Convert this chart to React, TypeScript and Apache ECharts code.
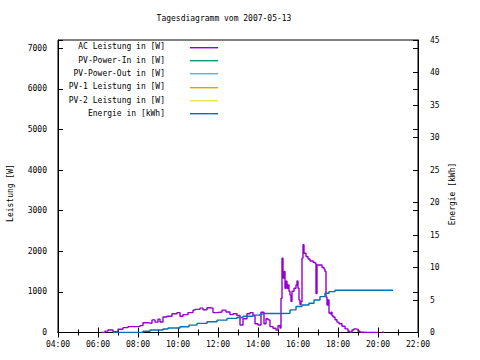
import React, { useEffect, useRef } from "react";
import * as echarts from "echarts";

const title = "Tagesdiagramm vom 2007-05-13";
const legendNames = [
  "AC Leistung in [W]",
  "PV-Power-In in [W]",
  "PV-Power-Out in [W]",
  "PV-1 Leistung in [W]",
  "PV-2 Leistung in [W]",
  "Energie in [kWh]",
];
const colors = ["#9400d3", "#009e73", "#56b4e9", "#e69f00", "#f0e442", "#0072b2"];

const xTicks = ["04:00", "06:00", "08:00", "10:00", "12:00", "14:00", "16:00", "18:00", "20:00", "22:00"];

const acTimes = ["06:12","06:21","06:30","06:45","07:00","07:15","07:30","07:51","08:06","08:15","08:30","08:42","08:51","09:00","09:06","09:15","09:27","09:42","09:57","10:06","10:15","10:30","10:45","10:51","11:06","11:15","11:27","11:36","11:45","11:57","12:12","12:24","12:36","12:45","12:57","13:06","13:15","13:27","13:36","13:45","13:51","14:00","14:09","14:18","14:24","14:30","14:36","14:45","14:54","15:00","15:06","15:09","15:12","15:15","15:18","15:21","15:24","15:27","15:30","15:33","15:36","15:39","15:42","15:48","15:54","15:57","16:00","16:03","16:06","16:09","16:12","16:15","16:18","16:24","16:30","16:36","16:45","16:51","16:54","16:57","17:06","17:12","17:18","17:21","17:24","17:27","17:30","17:33","17:36","17:39","17:42","17:45","17:51","17:57","18:03","18:12","18:21","18:30","18:36","18:42","18:48","18:54","19:00","19:06","19:15","19:30","20:00","20:12","20:18"];
const acValues: (number | null)[] = [0,35,60,20,80,120,145,150,170,240,225,310,255,330,260,380,400,460,490,400,440,490,550,570,600,560,610,600,490,505,550,505,440,460,420,185,340,460,490,420,215,185,500,215,340,310,145,105,60,170,110,840,1830,1340,1500,1090,1260,1090,1170,1015,920,765,1015,1090,1170,1270,1090,800,690,760,1830,2160,1950,1870,1810,1760,1730,1705,960,1660,1660,1600,1560,1500,870,675,800,480,460,500,420,380,315,255,215,155,90,30,10,60,90,75,30,10,0,0,null,5,5];

const pvInValues: number[] = [];
const pvOutValues: number[] = [];
const pv1Values: number[] = [];
const pv2Values: number[] = [];

const energyTimes = ["06:45","08:15","08:36","09:15","09:30","10:06","10:33","10:57","11:27","11:57","12:27","12:57","13:15","13:45","14:06","14:15","15:06","15:36","15:54","16:12","16:33","16:48","17:06","17:21","17:33","17:51","20:45"];
const energyValues = [0,0.2,0.38,0.53,0.69,0.89,1.14,1.4,1.65,1.9,2.17,2.3,2.5,2.67,2.82,2.93,2.95,3.48,4.0,4.24,4.5,5.0,5.52,6.03,6.29,6.5,6.5];

const toHours = (t: string) => {
  const [h, m] = t.split(":").map(Number);
  return h + m / 60;
};
const pad = (n: number) => (n < 10 ? "0" + n : "" + n);

const FONT = "DejaVu Sans Mono";

export default function App() {
  const ref = useRef<HTMLDivElement>(null);
  useEffect(() => {
    if (!ref.current) return;
    const chart = echarts.init(ref.current, undefined, { renderer: "svg" });
    const gridTop = 40;
    const gridBottomY = 332.5;
    const legendGraphics: any[] = [];
    legendNames.forEach((name, i) => {
      const y = 46.7 + i * 13.33;
      legendGraphics.push({
        type: "text",
        x: 165,
        y,
        style: {
          text: name,
          align: "right",
          verticalAlign: "middle",
          font: `8px "${FONT}"`,
          fill: "#000",
        },
      });
      legendGraphics.push({
        type: "rect",
        shape: { x: 190, y: Math.round(y), width: 28, height: 1.4 },
        style: { fill: colors[i] },
      });
    });
    const axisLabelStyle = { fontFamily: FONT, fontSize: 8, color: "#000" };
    const xAxisBase = {
      type: "value" as const,
      min: 4,
      max: 22,
      interval: 2,
      axisLine: { show: true, lineStyle: { color: "#000", width: 1 } },
      axisTick: { show: true, inside: true, length: 5, lineStyle: { color: "#000" } },
      minorTick: { show: true, splitNumber: 2, length: 3, lineStyle: { color: "#000" } },
      splitLine: { show: false },
      minorSplitLine: { show: false },
    };
    const seriesLine = (name: string, times: string[], vals: (number | null)[], color: string, yIdx: number) => ({
      name,
      type: "line" as const,
      step: "end" as const,
      yAxisIndex: yIdx,
      xAxisIndex: 0,
      data: times.map((t, i) => [toHours(t), vals[i]]),
      showSymbol: false,
      symbol: "none",
      connectNulls: false,
      lineStyle: { color, width: 1.4 },
      itemStyle: { color },
    });
    chart.setOption({
      animation: false,
      backgroundColor: "#fff",
      grid: {
        left: 58,
        right: 62,
        top: gridTop,
        bottom: 360 - gridBottomY,
        show: true,
        borderColor: "#000",
        borderWidth: 1,
      },
      xAxis: [
        {
          ...xAxisBase,
          position: "bottom",
          axisLabel: {
            ...axisLabelStyle,
            margin: 8,
            formatter: (v: number) => pad(v) + ":00",
          },
        },
        {
          ...xAxisBase,
          position: "top",
          axisLabel: { show: false },
        },
      ],
      yAxis: [
        {
          type: "value",
          position: "left",
          min: 0,
          max: 7200,
          interval: 1000,
          axisLine: { show: true, lineStyle: { color: "#000" } },
          axisTick: { show: true, inside: true, length: 5, lineStyle: { color: "#000" } },
          splitLine: { show: false },
          axisLabel: {
            ...axisLabelStyle,
            margin: 11,
            formatter: (v: number) => (v > 7000 ? "" : String(v)),
          },
        },
        {
          type: "value",
          position: "right",
          min: 0,
          max: 45,
          interval: 5,
          axisLine: { show: true, lineStyle: { color: "#000" } },
          axisTick: { show: true, inside: true, length: 5, lineStyle: { color: "#000" } },
          splitLine: { show: false },
          axisLabel: { ...axisLabelStyle, margin: 12 },
        },
        {
          type: "value",
          position: "right",
          min: 0,
          max: 7200,
          interval: 1000,
          axisLine: { show: false },
          axisTick: { show: true, inside: true, length: 5, lineStyle: { color: "#000" } },
          splitLine: { show: false },
          axisLabel: { show: false },
        },
      ],
      series: [
        seriesLine(legendNames[0], acTimes, acValues, colors[0], 0),
        seriesLine(legendNames[1], [], pvInValues, colors[1], 0),
        seriesLine(legendNames[2], [], pvOutValues, colors[2], 0),
        seriesLine(legendNames[3], [], pv1Values, colors[3], 0),
        seriesLine(legendNames[4], [], pv2Values, colors[4], 0),
        seriesLine(legendNames[5], energyTimes, energyValues, colors[5], 1),
      ],
      graphic: [
        {
          type: "text",
          x: 224,
          y: 18,
          style: {
            text: title,
            align: "center",
            verticalAlign: "middle",
            font: `8px "${FONT}"`,
            fill: "#000",
          },
        },
        {
          type: "text",
          x: 10,
          y: 193,
          rotation: Math.PI / 2,
          style: {
            text: "Leistung [W]",
            align: "center",
            verticalAlign: "middle",
            font: `8px "${FONT}"`,
            fill: "#000",
          },
        },
        {
          type: "text",
          x: 452,
          y: 194,
          rotation: Math.PI / 2,
          style: {
            text: "Energie [kWh]",
            align: "center",
            verticalAlign: "middle",
            font: `8px "${FONT}"`,
            fill: "#000",
          },
        },
        ...legendGraphics,
      ],
    });
    return () => chart.dispose();
  }, []);
  return (
    <div
      ref={ref}
      style={{ position: "absolute", left: 0, top: 0, width: 480, height: 360 }}
    />
  );
}
